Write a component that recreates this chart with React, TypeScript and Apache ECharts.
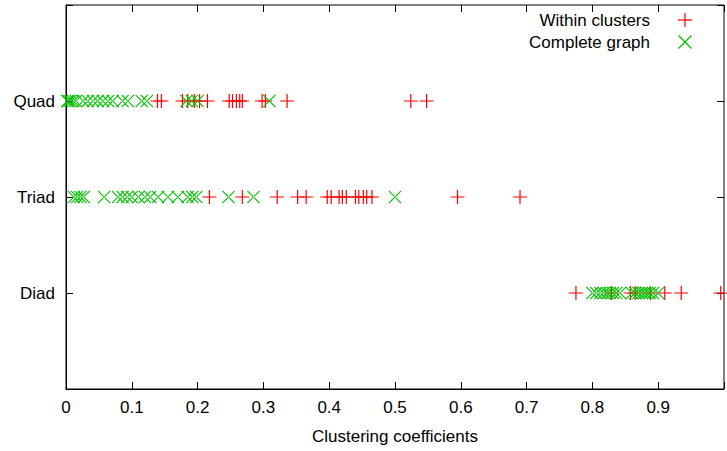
import React, { useEffect, useRef } from "react";
import * as echarts from "echarts";

const levelNames = ["", "Diad", "Triad", "Quad", ""];
const xTicks = ["0", "0.1", "0.2", "0.3", "0.4", "0.5", "0.6", "0.7", "0.8", "0.9", ""];

const quadWithin = [0.139, 0.145, 0.177, 0.185, 0.195, 0.203, 0.215, 0.248, 0.253, 0.259, 0.264, 0.268, 0.298, 0.303, 0.336, 0.524, 0.548];
const triadWithin = [0.218, 0.268, 0.321, 0.352, 0.365, 0.397, 0.403, 0.415, 0.42, 0.426, 0.44, 0.445, 0.452, 0.457, 0.465, 0.595, 0.69];
const diadWithin = [0.775, 0.829, 0.858, 0.865, 0.888, 0.91, 0.935, 0.995];

const quadComplete = [0.002, 0.004, 0.007, 0.011, 0.015, 0.026, 0.033, 0.041, 0.048, 0.056, 0.064, 0.071, 0.086, 0.094, 0.115, 0.123, 0.183, 0.191, 0.2, 0.309];
const triadComplete = [0.012, 0.017, 0.022, 0.027, 0.058, 0.079, 0.086, 0.093, 0.1, 0.11, 0.12, 0.128, 0.14, 0.155, 0.17, 0.185, 0.192, 0.198, 0.247, 0.285, 0.5];
const diadComplete = [0.8, 0.806, 0.812, 0.817, 0.822, 0.826, 0.831, 0.836, 0.842, 0.86, 0.865, 0.87, 0.875, 0.879, 0.883, 0.887, 0.892, 0.9];

const seriesNames = ["Within clusters", "Complete graph"];

const PLUS = "path://M0,6.4H14V7.6H0Z M6.4,0H7.6V14H6.4Z";
const CROSS = "path://M0,0.8L0.8,0L13,12.2L12.2,13Z M13,0.8L12.2,0L0,12.2L0.8,13Z";

const FONT = "'Liberation Sans', Arial, Helvetica, sans-serif";
const FS = 17;

function toPoints(levels: number[][]) {
  const out: number[][] = [];
  levels.forEach((vals, i) => {
    const level = i + 1;
    vals.forEach((v) => out.push([v, level]));
  });
  return out;
}

function mkTick() {
  return { show: true, inside: true, length: 7, lineStyle: { color: "#000", width: 1 } };
}

export default function App() {
  const ref = useRef<HTMLDivElement>(null);
  useEffect(() => {
    document.body.style.margin = "0";
    if (!ref.current) return;
    const chart = echarts.init(ref.current, undefined, { renderer: "svg" });
    const within = toPoints([diadWithin, triadWithin, quadWithin]);
    const complete = toPoints([diadComplete, triadComplete, quadComplete]);
    chart.setOption({
      animation: false,
      textStyle: { fontFamily: FONT },
      grid: { left: 66, right: 0, top: 5, bottom: 62, show: true, borderColor: "#000", borderWidth: 1, backgroundColor: "transparent" },
      xAxis: [
        {
          type: "value",
          min: 0,
          max: 1,
          interval: 0.1,
          position: "bottom",
          name: "Clustering coefficients",
          nameLocation: "middle",
          nameGap: 39,
          nameTextStyle: { color: "#000", fontSize: FS, fontFamily: FONT },
          axisLine: { show: true, onZero: false, lineStyle: { color: "#000", width: 1 } },
          axisTick: mkTick(),
          splitLine: { show: false },
          axisLabel: {
            color: "#000",
            fontSize: FS,
            fontFamily: FONT,
            margin: 10,
            formatter: (v: number) => xTicks[Math.round(v * 10)] ?? "",
          },
        },
        {
          type: "value",
          min: 0,
          max: 1,
          interval: 0.1,
          position: "top",
          axisLine: { show: false, onZero: false },
          axisTick: mkTick(),
          splitLine: { show: false },
          axisLabel: { show: false },
        },
      ],
      yAxis: [
        {
          type: "value",
          min: 0,
          max: 4,
          interval: 1,
          position: "left",
          axisLine: { show: true, onZero: false, lineStyle: { color: "#000", width: 1 } },
          axisTick: mkTick(),
          splitLine: { show: false },
          axisLabel: {
            color: "#000",
            fontSize: FS,
            fontFamily: FONT,
            margin: 11,
            formatter: (v: number) => levelNames[Math.round(v)] ?? "",
          },
        },
        {
          type: "value",
          min: 0,
          max: 4,
          interval: 1,
          position: "right",
          axisLine: { show: false, onZero: false },
          axisTick: mkTick(),
          splitLine: { show: false },
          axisLabel: { show: false },
        },
      ],
      series: [
        {
          name: seriesNames[0],
          type: "scatter",
          data: within,
          symbol: PLUS,
          symbolSize: 14,
          itemStyle: { color: "#ff0000", opacity: 1 },
          emphasis: { disabled: true },
          z: 2,
        },
        {
          name: seriesNames[1],
          type: "scatter",
          data: complete,
          symbol: CROSS,
          symbolSize: 13,
          itemStyle: { color: "#00c000", opacity: 1 },
          emphasis: { disabled: true },
          z: 3,
        },
      ],
      graphic: [
        { type: "text", x: 650, y: 20, style: { text: seriesNames[0], fill: "#000", font: `${FS}px ${FONT}`, align: "right", verticalAlign: "middle" } },
        { type: "text", x: 650, y: 42, style: { text: seriesNames[1], fill: "#000", font: `${FS}px ${FONT}`, align: "right", verticalAlign: "middle" } },
        { type: "line", shape: { x1: 678, y1: 20, x2: 692, y2: 20 }, style: { stroke: "#ff0000", lineWidth: 1.2 } },
        { type: "line", shape: { x1: 685, y1: 13, x2: 685, y2: 27 }, style: { stroke: "#ff0000", lineWidth: 1.2 } },
        { type: "line", shape: { x1: 678.5, y1: 35.5, x2: 691.5, y2: 48.5 }, style: { stroke: "#00c000", lineWidth: 1.2 } },
        { type: "line", shape: { x1: 691.5, y1: 35.5, x2: 678.5, y2: 48.5 }, style: { stroke: "#00c000", lineWidth: 1.2 } },
      ],
    });
    return () => chart.dispose();
  }, []);
  return <div ref={ref} style={{ width: 727, height: 451 }} />;
}
